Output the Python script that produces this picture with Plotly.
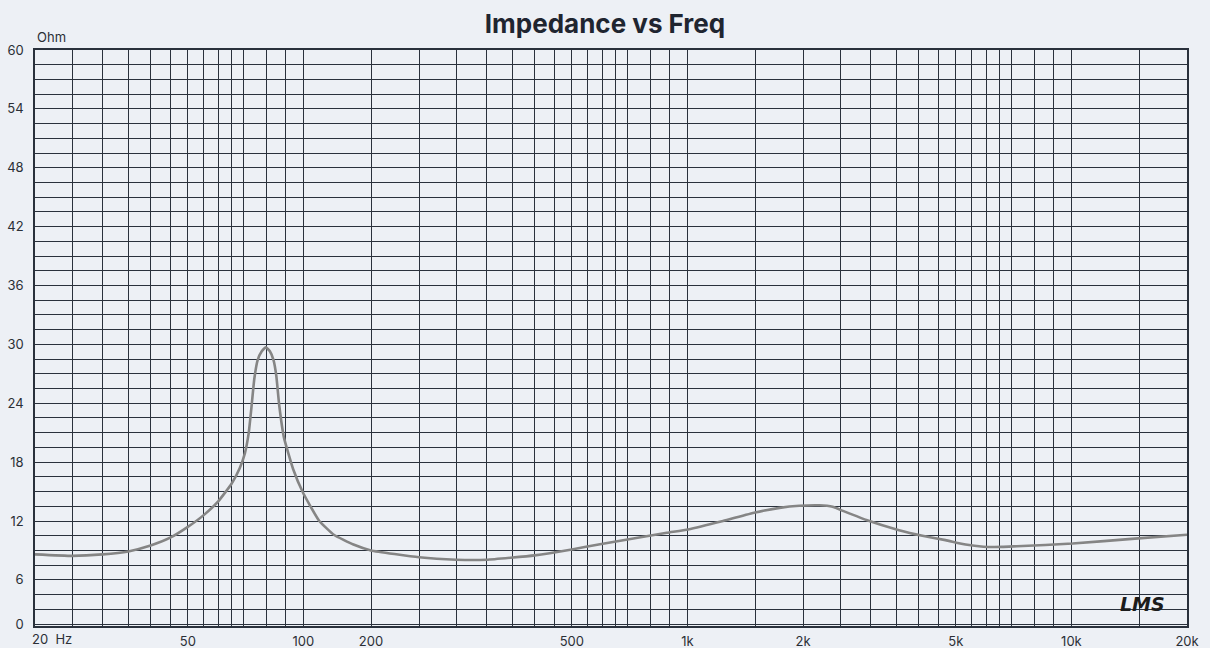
import plotly.graph_objects as go
import numpy as np

# ---- data ----
freq_hz = [20, 25, 30, 35, 40, 45, 50, 55, 60, 65, 68.2, 70.4, 72.0, 73.2, 74.5, 76.0, 77.9,
           79.8, 81.8, 83.6, 85.0, 86.5, 89.0, 94.0, 100, 110, 120, 135, 150, 200, 250,
           300, 400, 500, 592, 884, 1004, 1238, 1500, 1738, 1956, 2206, 2389, 2541,
           2924, 3558, 4093, 4700, 5300, 5900, 6600, 7212, 10070, 14628, 20000]
impedance_ohm = [8.6, 8.45, 8.6, 8.9, 9.5, 10.3, 11.4, 12.6, 14.0, 15.8, 17.35, 18.9, 20.9,
                 23.5, 26.5, 28.4, 29.3, 29.7, 29.3, 28.4, 26.8, 23.8, 20.5, 17.3, 14.8,
                 12.0, 10.6, 9.6, 9.0, 8.3, 8.05, 8.05, 8.5, 9.1, 9.64, 10.8, 11.14, 12.0,
                 12.87, 13.34, 13.55, 13.6, 13.45, 13.03, 12.1, 11.07, 10.5, 10.05, 9.6,
                 9.38, 9.36, 9.43, 9.7, 10.2, 10.6]

# grid positions per decade cycle and labels
x_grid_base = [20, 25, 30, 35, 40, 45, 50, 55, 60, 65, 70, 80, 90, 100, 150]
x_grid = [b * m for m in (1, 10, 100) for b in x_grid_base] + [20000]
x_label_pos = [50, 100, 150, 500, 1000, 2000, 5000, 10000, 20000]
x_label_txt = ["50", "100", "200", "500", "1k", "2k", "5k", "10k", "20k"]

y_grid = [1.5 * i for i in range(1, 41)]
y_label_pos = [1.5, 6, 12, 18, 24, 30, 36, 42, 48, 54, 60]
y_label_txt = ["0", "6", "12", "18", "24", "30", "36", "42", "48", "54", "60"]

BG = "#edf0f5"
GRID = "#2a313c"
FONT = "Inter"
TXT = "#2b2f36"

x_text = [x_label_txt[x_label_pos.index(v)] if v in x_label_pos else "" for v in x_grid]
y_text = [y_label_txt[y_label_pos.index(v)] if v in y_label_pos else "" for v in y_grid]

fig = go.Figure()
fig.add_trace(go.Scatter(x=freq_hz, y=impedance_ohm, mode="lines",
                         line=dict(color="#858585", width=2.6, shape="spline", smoothing=0.4),
                         hoverinfo="skip", showlegend=False))

fig.update_layout(
    width=1210, height=648,
    margin=dict(l=35, r=23, t=50, b=22),
    paper_bgcolor=BG, plot_bgcolor=BG,
    font=dict(family=FONT, size=13, color=TXT),
    title=dict(text="Impedance vs Freq", x=0.5, xanchor="center", y=1 - 24 / 648,
               yanchor="middle", font=dict(family=FONT, size=26, color="#1f2530", weight=700)),
    xaxis=dict(type="log", range=[np.log10(20), np.log10(20000)],
               tickmode="array", tickvals=x_grid, ticktext=x_text,
               showgrid=True, gridcolor=GRID, gridwidth=1,
               showline=True, linecolor=GRID, linewidth=1.5, mirror=True,
               ticks="", zeroline=False, ticklabelstandoff=3, automargin=False,
               tickfont=dict(family=FONT, size=13, color=TXT)),
    yaxis=dict(range=[1.3, 60], tickmode="array", tickvals=y_grid, ticktext=y_text,
               showgrid=True, gridcolor=GRID, gridwidth=1,
               showline=True, linecolor=GRID, linewidth=1.5, mirror=True,
               ticks="", zeroline=False, ticklabelstandoff=7, automargin=False,
               tickfont=dict(family=FONT, size=13, color=TXT)),
)

fig.add_annotation(text="Ohm", xref="paper", yref="paper", x=0, y=1, xanchor="left",
                   yanchor="bottom", yshift=3, showarrow=False,
                   font=dict(family=FONT, size=13, color=TXT))
fig.add_annotation(text="20&nbsp;&nbsp;Hz", xref="x", yref="paper", x=np.log10(20), y=0,
                   xanchor="left", yanchor="top", xshift=-5, yshift=-3, showarrow=False,
                   font=dict(family=FONT, size=13, color=TXT))
fig.add_annotation(text="<i><b>LMS</b></i>", xref="paper", yref="paper", x=1, y=0,
                   xanchor="right", yanchor="bottom", xshift=-20, yshift=9, showarrow=False,
                   font=dict(family="DejaVu Sans", size=19, color="#1c1c1c"))

fig.write_html("out.html", config={"displayModeBar": False},
               post_script="document.body.style.margin='0';")
